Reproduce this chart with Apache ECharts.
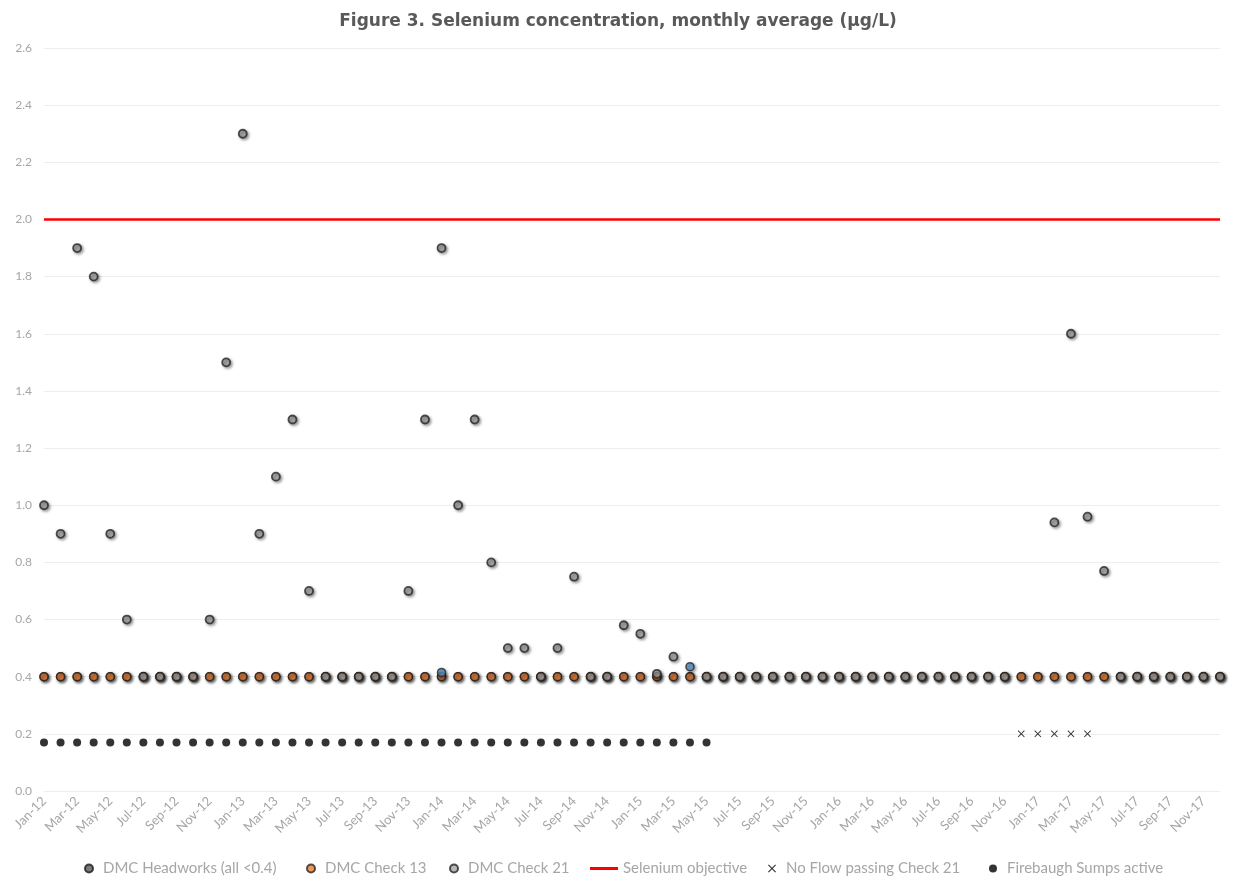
<!DOCTYPE html>
<html>
<head>
<meta charset="utf-8">
<script src="https://cdn.jsdelivr.net/npm/echarts@6/dist/echarts.min.js"></script>
<style>html,body{margin:0;padding:0;background:#fff;}#c{width:1236px;height:880px;}</style>
</head>
<body>
<div id="c"></div>
<script>
var months = ["Jan-12","Feb-12","Mar-12","Apr-12","May-12","Jun-12","Jul-12","Aug-12","Sep-12","Oct-12","Nov-12","Dec-12",
"Jan-13","Feb-13","Mar-13","Apr-13","May-13","Jun-13","Jul-13","Aug-13","Sep-13","Oct-13","Nov-13","Dec-13",
"Jan-14","Feb-14","Mar-14","Apr-14","May-14","Jun-14","Jul-14","Aug-14","Sep-14","Oct-14","Nov-14","Dec-14",
"Jan-15","Feb-15","Mar-15","Apr-15","May-15","Jun-15","Jul-15","Aug-15","Sep-15","Oct-15","Nov-15","Dec-15",
"Jan-16","Feb-16","Mar-16","Apr-16","May-16","Jun-16","Jul-16","Aug-16","Sep-16","Oct-16","Nov-16","Dec-16",
"Jan-17","Feb-17","Mar-17","Apr-17","May-17","Jun-17","Jul-17","Aug-17","Sep-17","Oct-17","Nov-17","Dec-17"];

var headworks = [0.4,0.4,0.4,0.4,0.4,0.4,0.4,0.4,0.4,0.4,0.4,0.4,
0.4,0.4,0.4,0.4,0.4,0.4,0.4,0.4,0.4,0.4,0.4,0.4,
0.4,0.4,0.4,0.4,0.4,0.4,0.4,0.4,0.4,0.4,0.4,0.4,
0.4,0.4,0.4,0.4,0.4,0.4,0.4,0.4,0.4,0.4,0.4,0.4,
0.4,0.4,0.4,0.4,0.4,0.4,0.4,0.4,0.4,0.4,0.4,0.4,
0.4,0.4,0.4,0.4,0.4,0.4,0.4,0.4,0.4,0.4,0.4,0.4];

var check13 = [0.4,0.4,0.4,0.4,0.4,0.4,0.4,0.4,0.4,0.4,0.4,0.4,
0.4,0.4,0.4,0.4,0.4,0.4,0.4,0.4,0.4,0.4,0.4,0.4,
0.4,0.4,0.4,0.4,0.4,0.4,0.4,0.4,0.4,0.4,0.4,0.4,
0.4,0.4,0.4,0.4,0.4,0.4,0.4,0.4,0.4,0.4,0.4,0.4,
0.4,0.4,0.4,0.4,0.4,0.4,0.4,0.4,0.4,0.4,0.4,0.4,
0.4,0.4,0.4,0.4,0.4,0.4,0.4,0.4,0.4,0.4,0.4,0.4];

var check21 = [1.0,0.9,1.9,1.8,0.9,0.6,0.4,0.4,0.4,0.4,0.6,1.5,
2.3,0.9,1.1,1.3,0.7,0.4,0.4,0.4,0.4,0.4,0.7,1.3,
1.9,1.0,1.3,0.8,0.5,0.5,0.4,0.5,0.75,0.4,0.4,0.58,
0.55,0.41,0.47,null,0.4,0.4,0.4,0.4,0.4,0.4,0.4,0.4,
0.4,0.4,0.4,0.4,0.4,0.4,0.4,0.4,0.4,0.4,0.4,null,
null,0.94,1.6,0.96,0.77,0.4,0.4,0.4,0.4,0.4,0.4,0.4];

var check21Extra = [null,null,null,null,null,null,null,null,null,null,null,null,
null,null,null,null,null,null,null,null,null,null,null,null,
0.415,null,null,null,null,null,null,null,null,null,null,null,
null,null,null,0.435,null,null,null,null,null,null,null,null,
null,null,null,null,null,null,null,null,null,null,null,null,
null,null,null,null,null,null,null,null,null,null,null,null];

var objective = [2,2,2,2,2,2,2,2,2,2,2,2,2,2,2,2,2,2,2,2,2,2,2,2,
2,2,2,2,2,2,2,2,2,2,2,2,2,2,2,2,2,2,2,2,2,2,2,2,
2,2,2,2,2,2,2,2,2,2,2,2,2,2,2,2,2,2,2,2,2,2,2,2];

var noFlow = [null,null,null,null,null,null,null,null,null,null,null,null,
null,null,null,null,null,null,null,null,null,null,null,null,
null,null,null,null,null,null,null,null,null,null,null,null,
null,null,null,null,null,null,null,null,null,null,null,null,
null,null,null,null,null,null,null,null,null,null,null,0.2,
0.2,0.2,0.2,0.2,null,null,null,null,null,null,null,null];

var firebaugh = [0.17,0.17,0.17,0.17,0.17,0.17,0.17,0.17,0.17,0.17,0.17,0.17,
0.17,0.17,0.17,0.17,0.17,0.17,0.17,0.17,0.17,0.17,0.17,0.17,
0.17,0.17,0.17,0.17,0.17,0.17,0.17,0.17,0.17,0.17,0.17,0.17,
0.17,0.17,0.17,0.17,0.17,null,null,null,null,null,null,null,
null,null,null,null,null,null,null,null,null,null,null,null,
null,null,null,null,null,null,null,null,null,null,null,null];

var FONT = "Lato, 'Open Sans', sans-serif";
var XPATH = 'path://M1,0 L5,4 L9,0 L10,1 L6,5 L10,9 L9,10 L5,6 L1,10 L0,9 L4,5 L0,1 Z';
var shadow = {shadowBlur: 3, shadowOffsetX: 1.5, shadowOffsetY: 1.5, shadowColor: 'rgba(0,0,0,0.45)'};

function mk(o){ return Object.assign({}, shadow, o); }

var chart = echarts.init(document.getElementById('c'), null, {renderer: 'canvas'});
function leg(name, left, w, h, icon){
  return {
    data: [icon ? {name: name, icon: icon} : name],
    left: left, top: 856, itemWidth: w, itemHeight: h, itemGap: 6,
    textStyle: {color: '#a6a6a6', fontSize: 15, fontFamily: FONT},
    selectedMode: false
  };
}
var option = {
  backgroundColor: '#ffffff',
  animation: false,
  title: {
    text: 'Figure 3. Selenium concentration, monthly average (\u00b5g/L)',
    left: 'center', top: 8,
    textStyle: {color: '#595959', fontSize: 17, fontWeight: 'bold', fontFamily: "'DejaVu Sans', sans-serif"}
  },
  legend: [
    leg('DMC Headworks (all <0.4)', 79, 18, 8, 'circle'),
    leg('DMC Check 13', 301, 18, 8, 'circle'),
    leg('DMC Check 21', 444, 18, 8, 'circle'),
    leg('Selenium objective', 585, 28, 3, 'rect'),
    leg('No Flow passing Check 21', 763, 18, 8, XPATH),
    leg('Firebaugh Sumps active', 984, 18, 8, 'circle')
  ],
  grid: {left: 44, right: 16, top: 48, bottom: 89, containLabel: false},
  xAxis: {
    type: 'category', data: months, boundaryGap: false,
    axisLine: {show: false}, axisTick: {show: false},
    axisLabel: {interval: 1, rotate: 45, color: '#a6a6a6', fontSize: 13, fontFamily: FONT, margin: 8},
    splitLine: {show: false}
  },
  yAxis: {
    type: 'value', min: 0, max: 2.6, interval: 0.2,
    axisLine: {show: false}, axisTick: {show: false},
    axisLabel: {color: '#a6a6a6', fontSize: 12, fontFamily: FONT, margin: 12,
      formatter: function(v){ return v.toFixed(1); }},
    splitLine: {lineStyle: {color: '#eeeeee', width: 1}}
  },
  series: [
    {name: 'DMC Headworks (all <0.4)', type: 'scatter', data: headworks, symbol: 'circle', symbolSize: 8,
      itemStyle: mk({color: '#595959', borderColor: '#1a1a1a', borderWidth: 1.5}), z: 2},
    {name: 'DMC Check 13', type: 'scatter', data: check13, symbol: 'circle', symbolSize: 8,
      itemStyle: mk({color: '#ed7d31', borderColor: '#262626', borderWidth: 1.5}), z: 3},
    {name: 'DMC Check 21', type: 'scatter', data: check21, symbol: 'circle', symbolSize: 8,
      itemStyle: mk({color: '#a6a6a6', borderColor: '#262626', borderWidth: 1.8}), z: 4},
    {name: 'DMC Check 21 (other)', type: 'scatter', data: check21Extra, symbol: 'circle', symbolSize: 8,
      itemStyle: mk({color: '#5b9bd5', borderColor: '#262626', borderWidth: 1.5}), z: 4},
    {name: 'Selenium objective', type: 'line', data: objective, showSymbol: false, symbol: 'none',
      lineStyle: {color: '#ff0000', width: 2.5}, itemStyle: {color: '#ff0000'}, z: 1},
    {name: 'No Flow passing Check 21', type: 'scatter', data: noFlow, symbol: XPATH, symbolSize: 7,
      itemStyle: {color: '#000000'}, z: 5},
    {name: 'Firebaugh Sumps active', type: 'scatter', data: firebaugh, symbol: 'circle', symbolSize: 8,
      itemStyle: {color: '#000000'}, z: 5}
  ]
};
chart.setOption(option);
</script>
</body>
</html>
